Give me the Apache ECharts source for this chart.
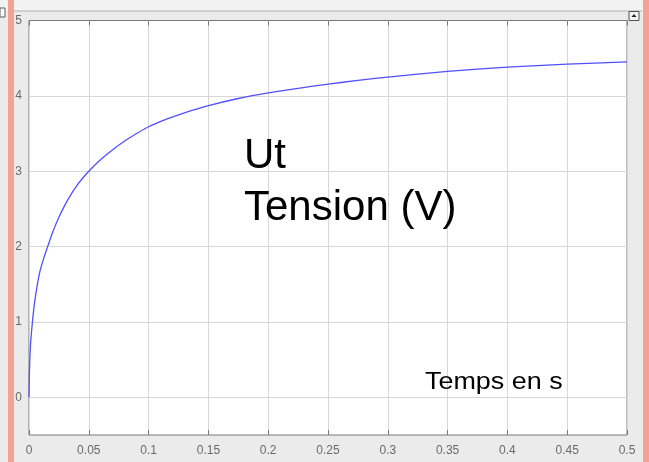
<!DOCTYPE html>
<html>
<head>
<meta charset="utf-8">
<script src="https://cdn.jsdelivr.net/npm/echarts@6/dist/echarts.min.js"></script>
<style>
html,body{margin:0;padding:0;background:#ebebeb;}
#chart{width:649px;height:462px;}
</style>
</head>
<body>
<div id="chart"></div>
<script>
// Time (s)
var times = [0, 0.0003, 0.0007, 0.0012, 0.002, 0.003, 0.0045, 0.0065, 0.009, 0.012, 0.0156, 0.02, 0.025, 0.03, 0.035, 0.04, 0.045, 0.05, 0.06, 0.07, 0.08, 0.09, 0.1, 0.115, 0.13, 0.15, 0.175, 0.2, 0.225, 0.25, 0.275, 0.3, 0.35, 0.4, 0.45, 0.5];
// Ut tension (V)
var tension = [0, 0.3, 0.5, 0.68, 0.85, 1.02, 1.24, 1.45, 1.66, 1.83, 2.0, 2.2, 2.39, 2.55, 2.69, 2.81, 2.91, 3.0, 3.155, 3.285, 3.40, 3.50, 3.59, 3.69, 3.775, 3.87, 3.965, 4.04, 4.10, 4.155, 4.205, 4.25, 4.325, 4.38, 4.42, 4.45];
var yTicks = [0, 1, 2, 3, 4, 5];
var yGridLines = [0, 1, 2, 3, 4];
var title1 = 'Ut';
var title2 = 'Tension (V)';
var xTitle = 'Temps en s';

var points = times.map(function (t, i) { return [t, tension[i]]; });

var chart = echarts.init(document.getElementById('chart'), null, {renderer: 'canvas'});
var labelColor = '#6a6a6a';
var tickColor = '#7a7a7a';
chart.setOption({
  animation: false,
  backgroundColor: '#ebebeb',
  grid: {left: 29, right: 22, top: 20.5, bottom: 27, show: true, backgroundColor: '#ffffff', borderColor: '#7a7a7a', borderWidth: 1},
  xAxis: [{
    type: 'value', min: 0, max: 0.5, interval: 0.05, position: 'bottom',
    axisLine: {show: false, onZero: false},
    axisTick: {show: true, inside: true, length: 5, lineStyle: {color: tickColor}},
    axisLabel: {color: labelColor, fontSize: 12, margin: 10, fontFamily: 'Liberation Sans, Arial, sans-serif', showMaxLabel: true, showMinLabel: true},
    splitLine: {show: true, lineStyle: {color: '#d6d6d6', width: 1}}
  }, {
    type: 'value', min: 0, max: 0.5, interval: 0.05, position: 'top',
    axisLine: {show: false, onZero: false},
    axisTick: {show: true, inside: true, length: 5, lineStyle: {color: tickColor}},
    axisLabel: {show: false}, splitLine: {show: false}
  }],
  yAxis: [{
    type: 'value', min: -0.5, max: 5, position: 'left',
    axisLine: {show: false, onZero: false},
    axisTick: {show: true, inside: true, length: 5, customValues: yTicks, lineStyle: {color: tickColor}},
    axisLabel: {color: labelColor, fontSize: 12, margin: 7, customValues: yTicks, fontFamily: 'Liberation Sans, Arial, sans-serif'},
    splitLine: {show: false}
  }, {
    type: 'value', min: -0.5, max: 5, position: 'right',
    axisLine: {show: false, onZero: false},
    axisTick: {show: true, inside: true, length: 5, customValues: yTicks, lineStyle: {color: tickColor}},
    axisLabel: {show: false}, splitLine: {show: false}
  }],
  series: [{
    type: 'line',
    data: points,
    xAxisIndex: 0, yAxisIndex: 0,
    showSymbol: false, smooth: 0.25,
    lineStyle: {color: '#5050ff', width: 1.3},
    z: 5,
    markLine: {
      silent: true, symbol: ['none', 'none'], label: {show: false},
      lineStyle: {color: '#d6d6d6', type: 'solid', width: 1},
      animation: false,
      data: yGridLines.map(function (v) { return {yAxis: v}; })
    }
  }],
  graphic: [
    {type: 'rect', shape: {x: 0, y: 0, width: 649, height: 11}, style: {fill: '#f2f2f2'}, z: -10, silent: true},
    {type: 'line', shape: {x1: 14, y1: 11, x2: 642, y2: 11}, style: {stroke: '#b0b0b0', lineWidth: 1}, z: -9, silent: true},
    {type: 'rect', shape: {x: 8, y: 0, width: 6, height: 462}, style: {fill: '#f4a393'}, z: 10, silent: true},
    {type: 'rect', shape: {x: 643, y: 0, width: 6, height: 462}, style: {fill: '#f4a393'}, z: 10, silent: true},
    {type: 'rect', shape: {x: 0, y: 8, width: 5, height: 9}, style: {fill: '#f8f8f8', stroke: '#606060', lineWidth: 1}, z: 10, silent: true},
    {type: 'rect', shape: {x: 629, y: 11.5, width: 10, height: 9}, style: {fill: '#f4f4f4', stroke: '#505050', lineWidth: 1}, z: 10, silent: true},
    {type: 'polygon', shape: {points: [[631.5, 17], [634, 14], [636.5, 17]]}, style: {fill: '#202020'}, z: 11, silent: true},
    {type: 'text', left: 244, top: 135, style: {text: title1, font: '42px "Liberation Sans", Arial, sans-serif', fill: '#000000'}, z: 20, silent: true},
    {type: 'text', left: 244, top: 187, style: {text: title2, font: '42px "Liberation Sans", Arial, sans-serif', fill: '#000000'}, z: 20, silent: true},
    {type: 'text', x: 425, y: 371, scaleX: 1.17, style: {text: xTitle, font: '23px "Liberation Sans", Arial, sans-serif', fill: '#000000'}, z: 20, silent: true}
  ]
});
</script>
</body>
</html>
